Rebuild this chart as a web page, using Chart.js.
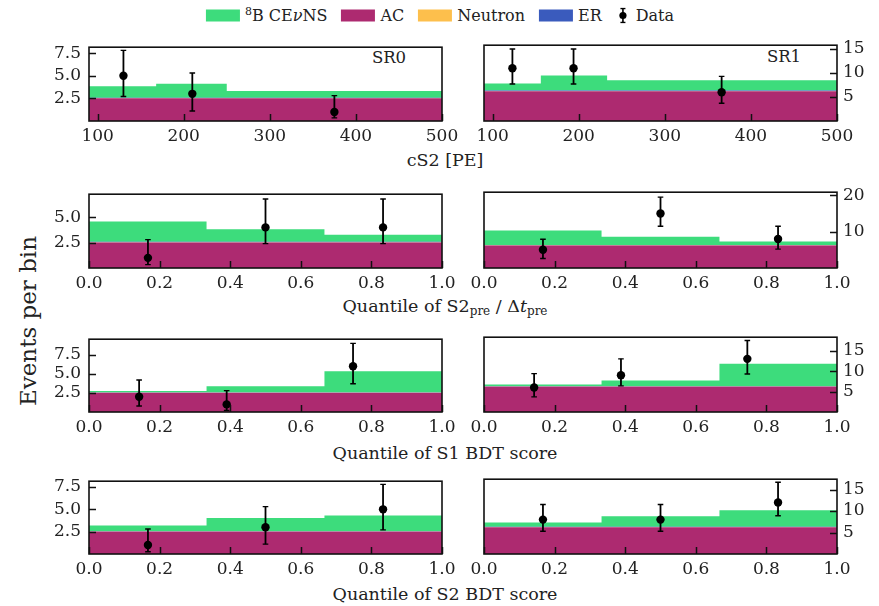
<!DOCTYPE html>
<html>
<head>
<meta charset="utf-8">
<script src="https://cdn.jsdelivr.net/npm/chart.js@4.4.0/dist/chart.umd.min.js"></script>
<style>
  body { margin: 0; background: #fff; font-family: "DejaVu Serif", serif; color: #222; }
  #fig { position: relative; width: 879px; height: 606px; overflow: hidden; background: #fff; }
  #fig canvas { position: absolute; }
  .txt { position: absolute; font-size: 17.5px; white-space: nowrap; transform: translate(-50%, -50%); }
  .txt sub { font-size: 12px; vertical-align: -3px; line-height: 0; }
  .sr { font-size: 16.5px; }
  #ylabel { position: absolute; left: 28px; top: 321px; font-size: 23px; white-space: nowrap;
            transform: translate(-50%, -50%) rotate(-90deg); }
  #legend { position: absolute; left: 440px; top: 15px; transform: translate(-50%, -50%);
            display: flex; align-items: center; font-size: 16px; white-space: nowrap; }
  #legend .item { display: flex; align-items: center; margin: 0 7px; }
  #legend .sw { width: 34px; height: 12px; margin-right: 5px; }
  #legend sup { font-size: 11px; vertical-align: 6px; line-height: 0; }
</style>
</head>
<body>
<div id="fig">
  <div id="legend">
    <div class="item"><div class="sw" style="background:#3ddc7c"></div><span><sup>8</sup>B CE<i>ν</i>NS</span></div>
    <div class="item"><div class="sw" style="background:#ad2a70"></div><span>AC</span></div>
    <div class="item"><div class="sw" style="background:#fdbf4c"></div><span>Neutron</span></div>
    <div class="item"><div class="sw" style="background:#3a5bbd"></div><span>ER</span></div>
    <div class="item">
      <svg width="14" height="16" style="margin-right:6px"><line x1="7" y1="1" x2="7" y2="15" stroke="#000" stroke-width="1.6"/><line x1="4.5" y1="1" x2="9.5" y2="1" stroke="#000" stroke-width="1.4"/><line x1="4.5" y1="15" x2="9.5" y2="15" stroke="#000" stroke-width="1.4"/><circle cx="7" cy="8" r="3.6" fill="#000"/></svg>
      <span>Data</span>
    </div>
  </div>
  <div id="ylabel">Events per bin</div>
  <div class="txt" style="left:445px; top:160px">cS2 [PE]</div>
  <div class="txt" style="left:445px; top:306px">Quantile of S2<sub>pre</sub> / Δ<i>t</i><sub>pre</sub></div>
  <div class="txt" style="left:445px; top:453px">Quantile of S1 BDT score</div>
  <div class="txt" style="left:445px; top:594px">Quantile of S2 BDT score</div>
  <div class="txt sr" style="left:389px; top:57px">SR0</div>
  <div class="txt sr" style="left:784px; top:56px">SR1</div>
</div>

<script>
// colours
const COL_CEVNS = '#3ddc7c';
const COL_AC = '#ad2a70';
const COL_NEUTRON = '#fdbf4c';
const COL_ER = '#3a5bbd';

// bin edges
const cs2EdgesSR0 = [90, 168, 250, 500];
const cs2EdgesSR1 = [90, 156, 233, 500];
const quantEdges = [0, 0.333, 0.667, 1.0];

// tick values
const xTicksCs2 = [100, 200, 300, 400, 500];
const xTicksQuant = [0, 0.2, 0.4, 0.6, 0.8, 1.0];
const yTicksSR0 = [2.5, 5.0, 7.5];
const yTicksSR0b = [2.5, 5.0];
const yTicksSR1 = [5, 10, 15];
const yTicksSR1b = [10, 20];

// backgrounds (same per science run)
const acSR0 = [2.5, 2.5, 2.5];
const neutronSR0 = [0.03, 0.03, 0.03];
const erSR0 = [0.05, 0.05, 0.05];
const acSR1 = [6.2, 6.2, 6.2];
const neutronSR1 = [0.06, 0.06, 0.06];
const erSR1 = [0.1, 0.1, 0.1];

// 8B CEvNS expectation per panel
const cevnsCs2SR0 = [1.25, 1.52, 0.72];
const cevnsCs2SR1 = [1.44, 3.14, 2.14];
const cevnsS2preSR0 = [2.0, 1.24, 0.69];
const cevnsS2preSR1 = [3.94, 2.24, 0.94];
const cevnsS1bdtSR0 = [0.19, 0.8, 2.75];
const cevnsS1bdtSR1 = [0.34, 1.34, 5.44];
const cevnsS2bdtSR0 = [0.62, 1.45, 1.72];
const cevnsS2bdtSR1 = [0.94, 2.4, 3.84];

// observed data
const dataXCs2SR0 = [130, 210, 375];
const dataYCs2SR0 = [5, 3, 1];
const errLoCs2SR0 = [2.7, 1.1, 0.35];
const errHiCs2SR0 = [7.8, 5.3, 2.8];

const dataXCs2SR1 = [123, 194, 366];
const dataYCs2SR1 = [11, 11, 6];
const errLoCs2SR1 = [7.7, 7.7, 3.7];
const errHiCs2SR1 = [15.0, 15.0, 9.3];

const dataXS2preSR0 = [0.167, 0.5, 0.833];
const dataYS2preSR0 = [1, 4, 4];
const errLoS2preSR0 = [0.33, 2.4, 2.4];
const errHiS2preSR0 = [2.8, 6.8, 6.8];

const dataXS2preSR1 = [0.167, 0.5, 0.833];
const dataYS2preSR1 = [5, 15, 8];
const errLoS2preSR1 = [2.6, 11.5, 5.2];
const errHiS2preSR1 = [7.9, 19.5, 11.5];

const dataXS1bdtSR0 = [0.142, 0.39, 0.748];
const dataYS1bdtSR0 = [2, 1, 6];
const errLoS1bdtSR0 = [0.78, 0.2, 3.7];
const errHiS1bdtSR0 = [4.2, 2.8, 9.0];

const dataXS1bdtSR1 = [0.142, 0.388, 0.746];
const dataYS1bdtSR1 = [6, 9, 13];
const errLoS1bdtSR1 = [3.7, 6.4, 9.3];
const errHiS1bdtSR1 = [9.4, 13.0, 17.5];

const dataXS2bdtSR0 = [0.167, 0.5, 0.833];
const dataYS2bdtSR0 = [1, 3, 5];
const errLoS2bdtSR0 = [0.26, 1.1, 2.7];
const errHiS2bdtSR0 = [2.8, 5.3, 7.8];

const dataXS2bdtSR1 = [0.167, 0.5, 0.833];
const dataYS2bdtSR1 = [8, 8, 12];
const errLoS2bdtSR1 = [5.3, 5.3, 8.9];
const errHiS2bdtSR1 = [11.5, 11.5, 16.7];

// layout
const YW = 50, PT = 10, XH = 30, PS = 24;
const colLeft = [89, 484];
const plotW = 353;
const rowTop = [39, 186, 331, 473];
const rowBottom = [121, 268, 412, 554];

const panels = [
  { row: 0, col: 0, edges: cs2EdgesSR0, xMin: 90, xMax: 500, xTicks: xTicksCs2, yMax: 8.15, yTicks: yTicksSR0,
    ac: acSR0, neutron: neutronSR0, er: erSR0, cevns: cevnsCs2SR0, dx: dataXCs2SR0, dy: dataYCs2SR0, lo: errLoCs2SR0, hi: errHiCs2SR0 },
  { row: 0, col: 1, edges: cs2EdgesSR1, xMin: 90, xMax: 500, xTicks: xTicksCs2, yMax: 15.8, yTicks: yTicksSR1,
    ac: acSR1, neutron: neutronSR1, er: erSR1, cevns: cevnsCs2SR1, dx: dataXCs2SR1, dy: dataYCs2SR1, lo: errLoCs2SR1, hi: errHiCs2SR1 },
  { row: 1, col: 0, edges: quantEdges, xMin: 0, xMax: 1, xTicks: xTicksQuant, yMax: 7.27, yTicks: yTicksSR0b,
    ac: acSR0, neutron: neutronSR0, er: erSR0, cevns: cevnsS2preSR0, dx: dataXS2preSR0, dy: dataYS2preSR0, lo: errLoS2preSR0, hi: errHiS2preSR0 },
  { row: 1, col: 1, edges: quantEdges, xMin: 0, xMax: 1, xTicks: xTicksQuant, yMax: 20.85, yTicks: yTicksSR1b,
    ac: acSR1, neutron: neutronSR1, er: erSR1, cevns: cevnsS2preSR1, dx: dataXS2preSR1, dy: dataYS2preSR1, lo: errLoS2preSR1, hi: errHiS2preSR1 },
  { row: 2, col: 0, edges: quantEdges, xMin: 0, xMax: 1, xTicks: xTicksQuant, yMax: 9.55, yTicks: yTicksSR0,
    ac: acSR0, neutron: neutronSR0, er: erSR0, cevns: cevnsS1bdtSR0, dx: dataXS1bdtSR0, dy: dataYS1bdtSR0, lo: errLoS1bdtSR0, hi: errHiS1bdtSR0 },
  { row: 2, col: 1, edges: quantEdges, xMin: 0, xMax: 1, xTicks: xTicksQuant, yMax: 18.3, yTicks: yTicksSR1,
    ac: acSR1, neutron: neutronSR1, er: erSR1, cevns: cevnsS1bdtSR1, dx: dataXS1bdtSR1, dy: dataYS1bdtSR1, lo: errLoS1bdtSR1, hi: errHiS1bdtSR1 },
  { row: 3, col: 0, edges: quantEdges, xMin: 0, xMax: 1, xTicks: xTicksQuant, yMax: 8.15, yTicks: yTicksSR0,
    ac: acSR0, neutron: neutronSR0, er: erSR0, cevns: cevnsS2bdtSR0, dx: dataXS2bdtSR0, dy: dataYS2bdtSR0, lo: errLoS2bdtSR0, hi: errHiS2bdtSR0 },
  { row: 3, col: 1, edges: quantEdges, xMin: 0, xMax: 1, xTicks: xTicksQuant, yMax: 17.4, yTicks: yTicksSR1,
    ac: acSR1, neutron: neutronSR1, er: erSR1, cevns: cevnsS2bdtSR1, dx: dataXS2bdtSR1, dy: dataYS2bdtSR1, lo: errLoS2bdtSR1, hi: errHiS2bdtSR1 }
];

Chart.defaults.font.family = "'DejaVu Serif', serif";
Chart.defaults.font.size = 17;
Chart.defaults.color = '#222';

// histogram values held over each bin: one point per edge, last one repeated
function steps(edges, vals) {
  const pts = vals.map((v, i) => ({ x: edges[i], y: v }));
  pts.push({ x: edges[edges.length - 1], y: vals[vals.length - 1] });
  return pts;
}

// error bars, inward ticks and the axes box (matplotlib look)
const boxPlugin = {
  id: 'boxPlugin',
  afterDatasetsDraw(chart) {
    const { ctx, chartArea: a, scales: { x, y } } = chart;
    const right = y.options.position === 'right';
    ctx.save();
    ctx.strokeStyle = '#000';

    const ds = chart.data.datasets.find(d => d.errLo);
    if (ds) {
      ds.data.forEach((p, i) => {
        const px = x.getPixelForValue(p.x);
        const yLo = y.getPixelForValue(ds.errLo[i]);
        const yHi = y.getPixelForValue(ds.errHi[i]);
        ctx.lineWidth = 1.8;
        ctx.beginPath(); ctx.moveTo(px, yLo); ctx.lineTo(px, yHi); ctx.stroke();
        ctx.lineWidth = 1.4;
        ctx.beginPath();
        ctx.moveTo(px - 2.8, yLo); ctx.lineTo(px + 2.8, yLo);
        ctx.moveTo(px - 2.8, yHi); ctx.lineTo(px + 2.8, yHi);
        ctx.stroke();
      });
    }

    ctx.strokeStyle = '#111';
    ctx.lineWidth = 1.5;
    ctx.beginPath();
    x.ticks.forEach(t => {
      const px = Math.round(x.getPixelForValue(t.value)) + 0.5;
      ctx.moveTo(px, a.bottom); ctx.lineTo(px, a.bottom - 7);
    });
    y.ticks.forEach(t => {
      const py = Math.round(y.getPixelForValue(t.value)) + 0.5;
      if (right) { ctx.moveTo(a.right, py); ctx.lineTo(a.right - 7, py); }
      else { ctx.moveTo(a.left, py); ctx.lineTo(a.left + 7, py); }
    });
    ctx.stroke();
    ctx.lineWidth = 1.6;
    ctx.strokeRect(a.left, a.top, a.right - a.left, a.bottom - a.top);
    ctx.restore();
  }
};

const fig = document.getElementById('fig');

panels.forEach(p => {
  const right = p.col === 1;
  const h = rowBottom[p.row] - rowTop[p.row];
  const cv = document.createElement('canvas');
  const W = YW + plotW + PS;
  const H = PT + h + XH;
  cv.width = W; cv.height = H;
  cv.style.width = W + 'px'; cv.style.height = H + 'px';
  cv.style.left = (right ? colLeft[1] - PS : colLeft[0] - YW) + 'px';
  cv.style.top = (rowTop[p.row] - PT) + 'px';
  fig.appendChild(cv);

  const isQuant = p.xMin === 0;
  const yFmt = right ? (v => String(v)) : (v => v.toFixed(1));

  new Chart(cv, {
    type: 'line',
    data: {
      datasets: [
        { label: 'AC', data: steps(p.edges, p.ac), stack: 'bg', stepped: 'before', fill: 'origin',
          backgroundColor: COL_AC, borderWidth: 0, pointRadius: 0, order: 1 },
        { label: 'Neutron', data: steps(p.edges, p.neutron), stack: 'bg', stepped: 'before', fill: '-1',
          backgroundColor: COL_NEUTRON, borderWidth: 0, pointRadius: 0, order: 1 },
        { label: 'ER', data: steps(p.edges, p.er), stack: 'bg', stepped: 'before', fill: '-1',
          backgroundColor: COL_ER, borderWidth: 0, pointRadius: 0, order: 1 },
        { label: '8B CEvNS', data: steps(p.edges, p.cevns), stack: 'bg', stepped: 'before', fill: '-1',
          backgroundColor: COL_CEVNS, borderWidth: 0, pointRadius: 0, order: 1 },
        { type: 'scatter', label: 'Data', data: p.dx.map((x, i) => ({ x: x, y: p.dy[i] })),
          errLo: p.lo, errHi: p.hi, showLine: false, order: 0,
          pointRadius: 4.2, pointBackgroundColor: '#000', pointBorderColor: '#000', pointBorderWidth: 0 }
      ]
    },
    options: {
      responsive: false,
      animation: false,
      devicePixelRatio: 1,
      events: [],
      layout: { padding: right ? { top: PT, left: PS, right: 0, bottom: 0 } : { top: PT, left: 0, right: PS, bottom: 0 } },
      plugins: { legend: { display: false }, tooltip: { enabled: false } },
      scales: {
        x: {
          type: 'linear', min: p.xMin, max: p.xMax,
          grid: { display: false, drawTicks: false },
          border: { display: false },
          ticks: { padding: 5, autoSkip: false, maxRotation: 0,
                   callback: v => isQuant ? v.toFixed(1) : String(v) },
          afterBuildTicks: s => { s.ticks = p.xTicks.map(v => ({ value: v })); },
          afterFit: s => { s.height = XH; }
        },
        y: {
          type: 'linear', position: right ? 'right' : 'left', min: 0, max: p.yMax,
          grid: { display: false, drawTicks: false },
          border: { display: false },
          ticks: { padding: right ? 6 : 8, callback: yFmt },
          afterBuildTicks: s => { s.ticks = p.yTicks.map(v => ({ value: v })); },
          afterFit: s => { s.width = YW; }
        }
      }
    },
    plugins: [boxPlugin]
  });
});
</script>
</body>
</html>
